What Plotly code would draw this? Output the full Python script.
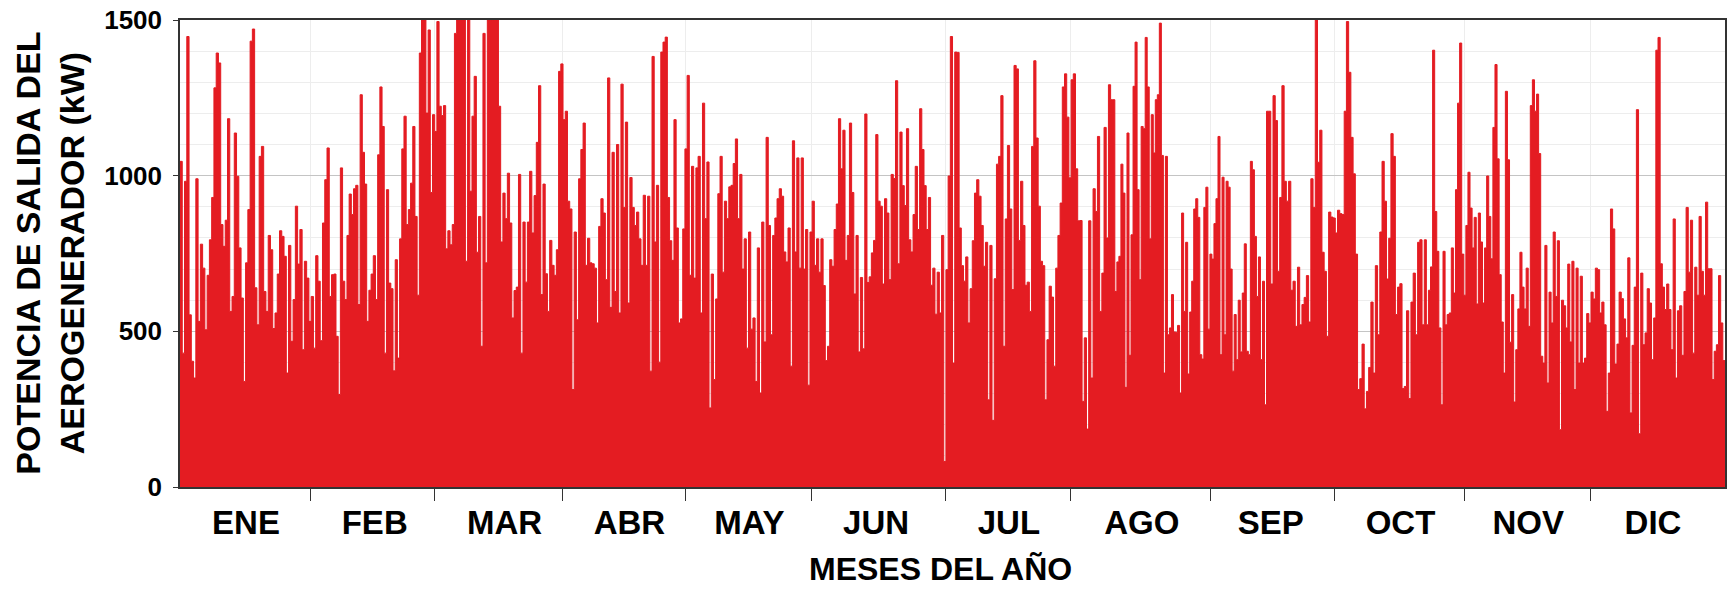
import numpy as np
import plotly.graph_objects as go

# ---------------- data (kW, left to right) ----------------
months = ["ENE", "FEB", "MAR", "ABR", "MAY", "JUN", "JUL", "AGO", "SEP", "OCT", "NOV", "DIC"]
y_ticks = [0, 500, 1000, 1500]

# hour-of-year at the start/end of each read segment
seg_edges_h = [0, 872, 1755, 2639, 3522, 4405, 5289, 6172, 7055, 7939, 8760]

seg1 = [1046, 430, 982, 1447, 553, 404, 350, 990, 532, 780, 703, 505, 680, 794, 930, 1282, 1394, 1362,
        843, 773, 857, 1183, 564, 612, 1137, 998, 768, 607, 339, 720, 891, 1432, 1471, 640, 521, 1062,
        1094, 628, 564, 808, 762, 509, 559, 684, 823, 805, 741, 366, 776, 468, 602, 902, 716, 827, 441,
        725, 671, 532, 612, 446, 743, 661, 470, 848, 987, 1089, 612, 682]
seg2 = [684, 484, 297, 1025, 661, 602, 808, 941, 875, 958, 969, 586, 1260, 1075, 973, 532, 632, 684,
        743, 602, 1067, 1285, 1158, 430, 955, 655, 637, 373, 730, 414, 797, 1086, 1191, 843, 891, 976,
        1158, 869, 616, 1394, 1500, 1500, 1201, 1468, 946, 1196, 1142, 1495, 1223, 1193, 1225, 765, 823,
        778, 843, 1457, 1500, 1500, 1500, 1500, 725, 1500, 950, 1191, 1319, 754, 869, 452, 1457, 720, 1500]
seg3 = [1500, 1500, 1500, 1500, 1223, 787, 944, 862, 1008, 848, 543, 631, 642, 1004, 430, 851, 658, 851,
        1014, 816, 936, 1107, 1289, 618, 973, 685, 564, 792, 712, 680, 762, 1335, 1359, 1180, 1207, 918,
        893, 313, 819, 537, 990, 1084, 1169, 712, 799, 720, 717, 703, 527, 837, 926, 880, 666, 1314, 577,
        1075, 628, 1100, 559, 1294, 898, 1172, 591, 994, 898, 840, 883, 797, 712, 937]
seg4 = [712, 934, 372, 1383, 787, 969, 401, 1397, 1429, 1445, 930, 791, 728, 1180, 832, 527, 540, 829,
        1086, 1322, 680, 1030, 671, 1025, 1062, 559, 1233, 862, 1044, 254, 684, 345, 604, 942, 1062, 690,
        918, 862, 964, 969, 1039, 1118, 862, 1004, 700, 797, 446, 819, 507, 543, 339, 768, 302, 851, 466,
        1123, 840, 489, 808, 864, 926, 958, 934, 755, 723, 832, 388, 1112, 755, 1057, 703]
seg5 = [1057, 700, 827, 327, 819, 918, 712, 797, 690, 797, 647, 406, 452, 730, 709, 827, 909, 1183, 1022,
        1146, 728, 808, 1169, 946, 620, 808, 434, 673, 444, 1198, 657, 675, 752, 792, 1132, 918, 902, 652,
        926, 880, 666, 1004, 991, 1305, 717, 1140, 968, 904, 1151, 794, 755, 875, 1030, 827, 1215, 1084,
        968, 827, 930, 648, 703, 555, 690, 559, 808, 82, 698, 999, 1447, 398, 1397]
seg6 = [1396, 832, 711, 661, 739, 527, 637, 791, 944, 987, 934, 840, 709, 786, 280, 776, 214, 669, 1037,
        1062, 1257, 452, 861, 1097, 893, 634, 1354, 1343, 792, 982, 840, 648, 658, 564, 1094, 1369, 1121,
        902, 725, 711, 280, 473, 645, 610, 388, 703, 808, 912, 1285, 1327, 1188, 993, 1308, 1327, 1022,
        855, 856, 275, 479, 186, 855, 350, 958, 885, 1126, 564, 687, 1155, 800, 1292, 1244]
seg7 = [1244, 628, 723, 741, 1037, 944, 320, 1137, 423, 810, 1287, 1429, 955, 666, 1158, 1151, 1444, 1285,
        797, 1196, 1073, 1244, 1260, 1490, 1065, 366, 1062, 489, 511, 618, 498, 497, 519, 302, 880, 564,
        786, 363, 562, 661, 893, 926, 866, 425, 411, 898, 963, 507, 748, 732, 846, 926, 1126, 425, 995,
        489, 982, 963, 700, 372, 554, 409, 600, 434, 623, 781, 436, 425, 1046, 1019, 805, 612, 739, 409,
        661, 264, 1207]
seg8 = [1207, 652, 1257, 1177, 693, 930, 1289, 982, 918, 982, 632, 661, 516, 706, 521, 586, 609, 679, 530,
        990, 898, 1500, 1043, 1146, 754, 693, 484, 883, 867, 864, 816, 889, 878, 875, 1207, 1495, 1332,
        1123, 1006, 748, 313, 348, 459, 251, 307, 384, 594, 366, 711, 489, 819, 1046, 918, 668, 799, 1135,
        1062, 554, 642, 653, 316, 323, 566, 284, 594, 687, 489, 786, 794, 521]
seg9 = [794, 521, 632, 707, 1403, 885, 757, 511, 264, 757, 521, 554, 559, 768, 623, 955, 1233, 1426, 748,
        616, 840, 1011, 896, 768, 866, 588, 880, 787, 591, 768, 999, 869, 733, 1155, 1357, 1054, 682, 530,
        366, 1271, 1051, 465, 618, 273, 441, 572, 754, 642, 572, 703, 516, 1225, 1308, 1207, 1262, 1071,
        420, 398, 776, 334, 626, 527, 819, 612, 791, 184, 600, 582, 511, 716, 466, 725, 313, 703, 398]
seg10 = [677, 398, 414, 557, 527, 626, 604, 703, 698, 559, 594, 521, 243, 366, 893, 829, 395, 459, 626,
         605, 540, 479, 736, 238, 455, 642, 1212, 171, 687, 457, 495, 637, 591, 409, 543, 1403, 1444, 717,
         642, 570, 652, 570, 441, 861, 350, 566, 582, 423, 628, 898, 690, 857, 430, 706, 616, 869, 693,
         616, 915, 701, 701, 345, 436, 457, 679, 527, 406]

segments = [seg1, seg2, seg3, seg4, seg5, seg6, seg7, seg8, seg9, seg10]

# month boundaries and label centres (hour of year)
month_bounds_h = [742, 1444, 2169, 2865, 3579, 4343, 5051, 5844, 6546, 7282, 7996]
month_label_h = [374, 1104, 1840, 2548, 3228, 3947, 4700, 5453, 6184, 6920, 7644, 8352]

# ---------------- build series ----------------
xs, ys = [], []
for i, seg in enumerate(segments):
    a, b = seg_edges_h[i], seg_edges_h[i + 1]
    n = len(seg)
    step = (b - a) / n
    xs.extend((a + step * np.arange(n)).tolist())
    ys.extend(seg)
xs.append(8760)
ys.append(segments[-1][-1])

RED = "#E41C22"
FONT = "Liberation Sans, Arial, sans-serif"

fig = go.Figure()
fig.add_trace(go.Scatter(
    x=xs, y=ys, mode="lines",
    line=dict(color=RED, width=1, shape="hv"),
    fill="tozeroy", fillcolor=RED,
    hoverinfo="skip", showlegend=False,
))

fig.update_layout(
    width=1731, height=589,
    margin=dict(l=180, r=4, t=20, b=102),
    paper_bgcolor="white", plot_bgcolor="white",
    showlegend=False,
    xaxis=dict(
        range=[0, 8760],
        tickmode="array", tickvals=month_label_h, ticktext=months,
        ticks="", showgrid=False, zeroline=False,
        tickfont=dict(family=FONT, size=33, color="black", weight="bold"),
        ticklabelstandoff=6,
        showline=True, linecolor="#333333", linewidth=1.5, mirror=True,
        minor=dict(tickmode="array", tickvals=month_bounds_h, ticks="outside", ticklen=12,
                   tickcolor="#333333", tickwidth=1, showgrid=True, gridcolor="#EDEDED", gridwidth=1),
    ),
    yaxis=dict(
        range=[0, 1500],
        tickmode="array", tickvals=y_ticks, ticktext=[str(v) for v in y_ticks],
        ticks="outside", ticklen=5, tickcolor="#333333",
        tickfont=dict(family=FONT, size=26, color="black", weight="bold"),
        ticklabelstandoff=6,
        showgrid=True, gridcolor="#C4C4C4", gridwidth=1, zeroline=False,
        showline=True, linecolor="#333333", linewidth=1.5, mirror=True,
        minor=dict(dtick=100, showgrid=True, gridcolor="#EDEDED", gridwidth=1, ticks=""),
    ),
    annotations=[
        dict(text="<b>MESES DEL AÑO</b>", xref="paper", yref="paper",
             x=(941 - 180) / 1547, y=-(569 - 487) / 467, xanchor="center", yanchor="middle",
             showarrow=False, font=dict(family=FONT, size=32, color="black")),
        dict(text="<b>POTENCIA DE SALIDA DEL<br>AEROGENERADOR (kW)</b>", xref="paper", yref="paper",
             x=(49 - 180) / 1547, y=0.5, xanchor="center", yanchor="middle", textangle=-90,
             showarrow=False, font=dict(family=FONT, size=34, color="black")),
    ],
)

fig.write_html("out.html")
